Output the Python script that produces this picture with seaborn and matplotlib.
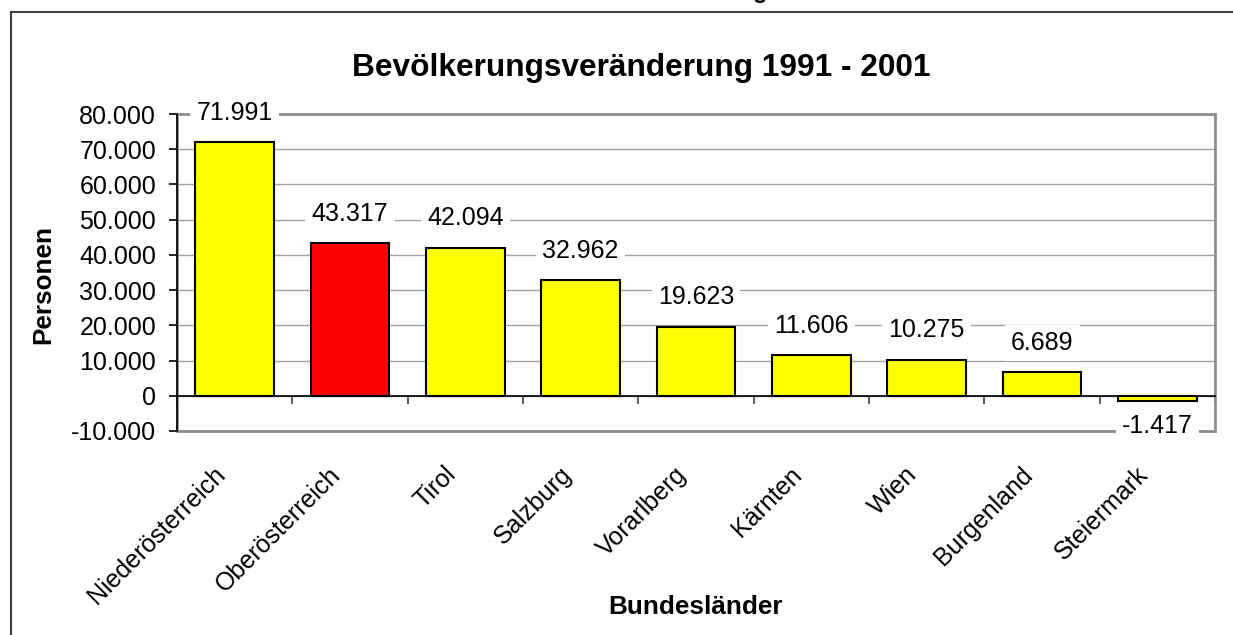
import matplotlib
matplotlib.use("Agg")
import matplotlib.pyplot as plt
import matplotlib.patches as patches
import matplotlib.transforms as mtransforms
from matplotlib.ticker import FuncFormatter, FixedLocator
import seaborn as sns

laender = ['Niederösterreich', 'Oberösterreich', 'Tirol', 'Salzburg', 'Vorarlberg',
           'Kärnten', 'Wien', 'Burgenland', 'Steiermark']
veraenderung = [71991, 43317, 42094, 32962, 19623, 11606, 10275, 6689, -1417]
farben = ['#FFFF00', '#FF0000', '#FFFF00', '#FFFF00', '#FFFF00',
          '#FFFF00', '#FFFF00', '#FFFF00', '#FFFF00']
y_ticks = list(range(-10000, 80001, 10000))


def de_format(v, pos=None):
    # German thousands separator
    return f"{v:,.0f}".replace(",", ".")


sns.set_style("white")
plt.rcParams['font.family'] = ['Liberation Sans', 'DejaVu Sans']
plt.rcParams['text.color'] = 'black'
plt.rcParams['axes.labelcolor'] = 'black'
plt.rcParams['xtick.color'] = 'black'
plt.rcParams['ytick.color'] = 'black'

W, H = 1233, 635
fig = plt.figure(figsize=(W / 100, H / 100), dpi=100)
ax = fig.add_axes([177 / W, (H - 431) / H, (1215 - 177) / W, (431 - 114) / H])

sns.barplot(x=laender, y=veraenderung, hue=laender, palette=farben, legend=False,
            width=0.68, edgecolor='black', linewidth=1.5, saturation=1, ax=ax, zorder=3)

ax.set_ylim(-10000, 80000)
ax.set_xlim(-0.5, len(laender) - 0.5)
ax.yaxis.set_major_locator(FixedLocator(y_ticks))
ax.yaxis.set_major_formatter(FuncFormatter(de_format))
ax.grid(axis='y', color='#a0a0a0', linewidth=1, zorder=0)
ax.grid(axis='x', visible=False)

# plot area border (grey)
ax.add_patch(patches.Rectangle((0, 0), 1, 1, transform=ax.transAxes, fill=False,
                               edgecolor='#8c8c8c', linewidth=2, zorder=1, clip_on=False))
for s in ['top', 'right']:
    ax.spines[s].set_visible(False)
ax.spines['left'].set_color('black')
ax.spines['left'].set_linewidth(1.2)
ax.spines['left'].set_zorder(4)
ax.spines['bottom'].set_position(('data', 0))
ax.spines['bottom'].set_color('black')
ax.spines['bottom'].set_linewidth(1.2)
ax.spines['bottom'].set_zorder(4)

# category ticks between bars, labels at bar centres
ax.xaxis.set_minor_locator(FixedLocator([i - 0.5 for i in range(len(laender) + 1)]))
ax.tick_params(axis='x', which='minor', direction='out', length=6, width=1.2,
               color='#404040', bottom=True)
ax.tick_params(axis='x', which='major', length=0, pad=54, labelsize=18)
shift = mtransforms.ScaledTranslation(-13 / 100, 0, fig.dpi_scale_trans)
for lab in ax.get_xticklabels():
    lab.set_rotation(45)
    lab.set_ha('right')
    lab.set_va('center')
    lab.set_rotation_mode('anchor')
    lab.set_transform(lab.get_transform() + shift)

ax.tick_params(axis='y', which='major', direction='out', length=6, width=1.2,
               color='black', pad=9, labelsize=18, left=True)
ax.set_xlabel('')
ax.set_ylabel('')

# value labels
for i, v in enumerate(veraenderung):
    off = 21 if v >= 0 else -18
    ax.annotate(de_format(v), (i, v), xytext=(0, off), textcoords='offset points',
                ha='center', va='center', fontsize=18, zorder=5, annotation_clip=False,
                bbox=dict(boxstyle='square,pad=0.25', facecolor='white', edgecolor='none'))

fig.text(641 / W, 1 - 68 / H, 'Bevölkerungsveränderung 1991 - 2001', ha='center',
         va='center', fontsize=22.8, fontweight='bold')
fig.text(43 / W, 1 - 285 / H, 'Personen', rotation=90, ha='center', va='center',
         fontsize=18.8, fontweight='bold')
fig.text(696 / W, 1 - 607 / H, 'Bundesländer', ha='center', va='center',
         fontsize=18.8, fontweight='bold')

# outer chart frame (runs off the picture at right and bottom)
fig.patches.append(patches.Rectangle((11 / W, -0.1), 1.2, 1.1 - 12 / H,
                                     transform=fig.transFigure, fill=False,
                                     edgecolor='#404040', linewidth=1.5))
# bottom of a cut-off heading above the chart
fig.text(760 / W, 1 + 2 / H, 'g', ha='center', va='baseline', fontsize=17,
         fontweight='bold')

fig.savefig('out.png', dpi=100)
